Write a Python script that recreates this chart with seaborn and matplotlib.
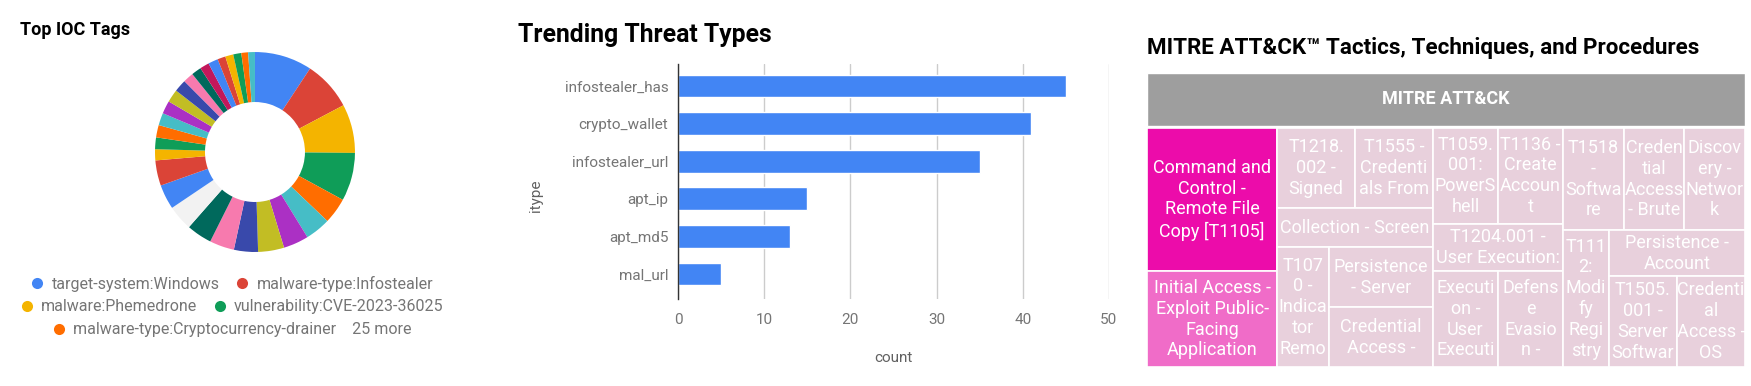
"""Painel de inteligência de ameaças: tags de IOC, tipos em alta e treemap MITRE."""
import matplotlib
matplotlib.use("Agg")
import numpy as np
import pandas as pd
import matplotlib.pyplot as plt
import seaborn as sns
from matplotlib.lines import Line2D
from matplotlib.patches import Rectangle
from matplotlib.colors import LinearSegmentedColormap, Normalize

# ── dados ────────────────────────────────────────────────────────────────────
tag_names = ["target-system:Windows", "malware-type:Infostealer",
             "malware:Phemedrone", "vulnerability:CVE-2023-36025",
             "malware-type:Cryptocurrency-drainer"]
tag_more = "25 more"
tag_values = [9.3, 8.0, 7.9, 7.8, 4.2, 4.1, 4.1, 4.2, 3.9, 4.0,
              4.1, 4.1, 4.0, 4.1, 1.8, 1.9, 2.0, 2.0, 2.1, 2.1,
              2.0, 1.7, 1.6, 1.5, 1.6, 1.3, 1.3, 1.3, 1.1, 1.1]

itypes = ["infostealer_has", "crypto_wallet", "infostealer_url",
          "apt_ip", "apt_md5", "mal_url"]
itype_counts = [45, 41, 35, 15, 13, 5]

ttp_labels = [
    "Command and\nControl -\nRemote File\nCopy [T1105]",
    "Initial Access -\nExploit Public-\nFacing\nApplication",
    "T1218.\n002 -\nSigned",
    "T1555 -\nCredenti\nals From",
    "Collection - Screen",
    "T107\n0 -\nIndica\ntor\nRemo",
    "Persistence\n- Server",
    "Credential\nAccess -",
    "T1059.\n001:\nPowerS\nhell",
    "T1136 -\nCreate\nAccoun\nt",
    "T1204.001 -\nUser Execution:",
    "Executi\non -\nUser\nExecuti",
    "Defens\ne\nEvasio\nn -",
    "T1518\n-\nSoftwa\nre",
    "Creden\ntial\nAccess\n- Brute",
    "Discov\nery -\nNetwor\nk",
    "T111\n2:\nModi\nfy\nRegi\nstry",
    "Persistence -\nAccount",
    "T1505.\n001 -\nServer\nSoftwar",
    "Credenti\nal\nAccess -\nOS",
]
ttp_values = [3, 2] + [1] * 18

# agrupamento do treemap (índices das folhas)
TREE = ("row", [
    ("col", [0, 1]),
    ("col", [("row", [2, 3]), 4, ("row", [5, ("col", [6, 7])])]),
    ("col", [("row", [8, 9]), 10, ("row", [11, 12])]),
    ("col", [("row", [13, 14, 15]),
             ("row", [16, ("col", [17, ("row", [18, 19])])])]),
])

# ── estilo ───────────────────────────────────────────────────────────────────
PALETA = ["#4285F4", "#DB4437", "#F4B400", "#0F9D58", "#FF6D00", "#46BDC6",
          "#AB30C4", "#C2BD24", "#3949AB", "#F77AAE", "#00695C", "#F2F2F2",
          "#4285F4", "#DB4437", "#F4B400", "#0F9D58", "#FF6D00", "#46BDC6",
          "#AB30C4", "#C2BD24", "#3949AB", "#F77AAE", "#00695C", "#C2185B",
          "#4285F4", "#DB4437", "#F4B400", "#0F9D58", "#FF6D00", "#46BDC6"]
AZUL = "#4285F4"
CINZA_TXT = "#757575"
CINZA_LBL = "#616161"
GRADE = "#CCCCCC"

sns.set_theme(style="white")
plt.rcParams["font.family"] = ["Roboto", "DejaVu Sans"]

fig = plt.figure(figsize=(17.51, 3.86), dpi=100)
fig.patch.set_facecolor("white")

# ── 1. rosca: Top IOC Tags ───────────────────────────────────────────────────
ax = fig.add_axes([0.08567, 0.3342, 0.1199, 0.544])
ax.pie(tag_values, colors=PALETA, startangle=90, counterclock=False,
       wedgeprops=dict(width=0.5, linewidth=0))
ax.set_xlim(-1.05, 1.05); ax.set_ylim(-1.05, 1.05)
ax.set_aspect("equal"); ax.axis("off")
fig.text(20 / 1751, 1 - 35 / 386, "Top IOC Tags", fontsize=13,
         fontweight="bold", color="black", va="baseline")

handles = [Line2D([], [], marker="o", ls="none", markersize=8,
                  color=PALETA[i], markeredgewidth=0) for i in range(5)]
rows = [([0, 1], 0.2642), ([2, 3], 0.2047), ([4], 0.1451)]
for idx, ypos in rows:
    labels = [tag_names[i] for i in idx]
    if idx == [4]:
        labels = [tag_names[4] + "    " + tag_more]
    fig.legend([handles[i] for i in idx], labels, loc="center",
               bbox_to_anchor=(0.1325, ypos), ncol=len(idx), frameon=False,
               fontsize=11.5, labelcolor=CINZA_TXT, handlelength=0.8,
               handletextpad=0.5, columnspacing=1.0, borderpad=0,
               borderaxespad=0)

# ── 2. barras: Trending Threat Types ─────────────────────────────────────────
ax = fig.add_axes([0.3872, 0.2254, 0.2461, 0.6088])
df = pd.DataFrame({"itype": itypes, "count": itype_counts})
sns.barplot(data=df, x="count", y="itype", orient="h", color=AZUL,
            saturation=1, width=0.61, ax=ax)
ax.set_xlim(0, 50)
ax.set_ylim(5.665, -0.585)
ax.set_xticks(range(0, 51, 10))
ax.grid(axis="x", color=GRADE, linewidth=1)
ax.grid(axis="y", visible=False)
ax.set_axisbelow(True)
for s in ["top", "right", "bottom"]:
    ax.spines[s].set_visible(False)
ax.spines["left"].set_color("#333333"); ax.spines["left"].set_linewidth(1)
ax.tick_params(length=0, labelsize=11, labelcolor=CINZA_TXT)
ax.tick_params(axis="x", pad=10)
ax.tick_params(axis="y", pad=7)
ax.set_xlabel("count", fontsize=11, color=CINZA_LBL)
ax.set_ylabel("itype", fontsize=11, color=CINZA_LBL)
ax.xaxis.set_label_coords(0.5, -0.251)
ax.xaxis.label.set_va("center")
ax.yaxis.set_label_coords(-0.329, 0.44)
ax.yaxis.label.set_va("center")
fig.text(518 / 1751, 1 - 42 / 386, "Trending Threat Types", fontsize=17.8,
         fontweight="bold", color="black", va="baseline")

# ── 3. treemap: MITRE ATT&CK ─────────────────────────────────────────────────
def peso(node):
    if isinstance(node, int):
        return ttp_values[node]
    return sum(peso(k) for k in node[1])


def divide(node, x0, y0, x1, y1, out):
    if isinstance(node, int):
        out[node] = (x0, y0, x1, y1)
        return
    how, kids = node
    tot = sum(peso(k) for k in kids)
    pos = x0 if how == "row" else y0
    for k in kids:
        frac = peso(k) / tot
        if how == "row":
            nxt = pos + (x1 - x0) * frac
            divide(k, pos, y0, nxt, y1, out)
        else:
            nxt = pos + (y1 - y0) * frac
            divide(k, x0, pos, x1, nxt, out)
        pos = nxt


ax = fig.add_axes([0.6551, 0.0492, 0.3415, 0.7617])
ax.set_xlim(0, 1); ax.set_ylim(1, 0); ax.axis("off")
HDR = 0.18
hdr = Rectangle((0, 0), 1, HDR, facecolor="#9E9E9E", edgecolor="white",
                linewidth=1.0)
ax.add_patch(hdr)
ax.text(0.5, HDR / 2, "MITRE ATT&CK", ha="center", va="center",
        color="white", fontsize=13, fontweight="bold")

cmap = LinearSegmentedColormap.from_list(
    "ttp", ["#E8D0DC", "#F06CC8", "#EC0CAA"])
norm = Normalize(min(ttp_values), max(ttp_values))
caixas = {}
divide(TREE, 0, HDR + 0.007, 1, 1, caixas)
for i, (x0, y0, x1, y1) in caixas.items():
    r = Rectangle((x0, y0), x1 - x0, y1 - y0,
                  facecolor=cmap(norm(ttp_values[i])),
                  edgecolor="white", linewidth=1.2)
    ax.add_patch(r)
    t = ax.text((x0 + x1) / 2, (y0 + y1) / 2, ttp_labels[i], ha="center",
                va="center", color="white", fontsize=13, linespacing=1.2)
    t.set_clip_path(r)

fig.text(1147 / 1751, 1 - 54 / 386,
         "MITRE ATT&CK\u2122 Tactics, Techniques, and Procedures",
         fontsize=16.1, fontweight="bold", color="black", va="baseline")

fig.savefig("out.png", dpi=100, facecolor="white")
